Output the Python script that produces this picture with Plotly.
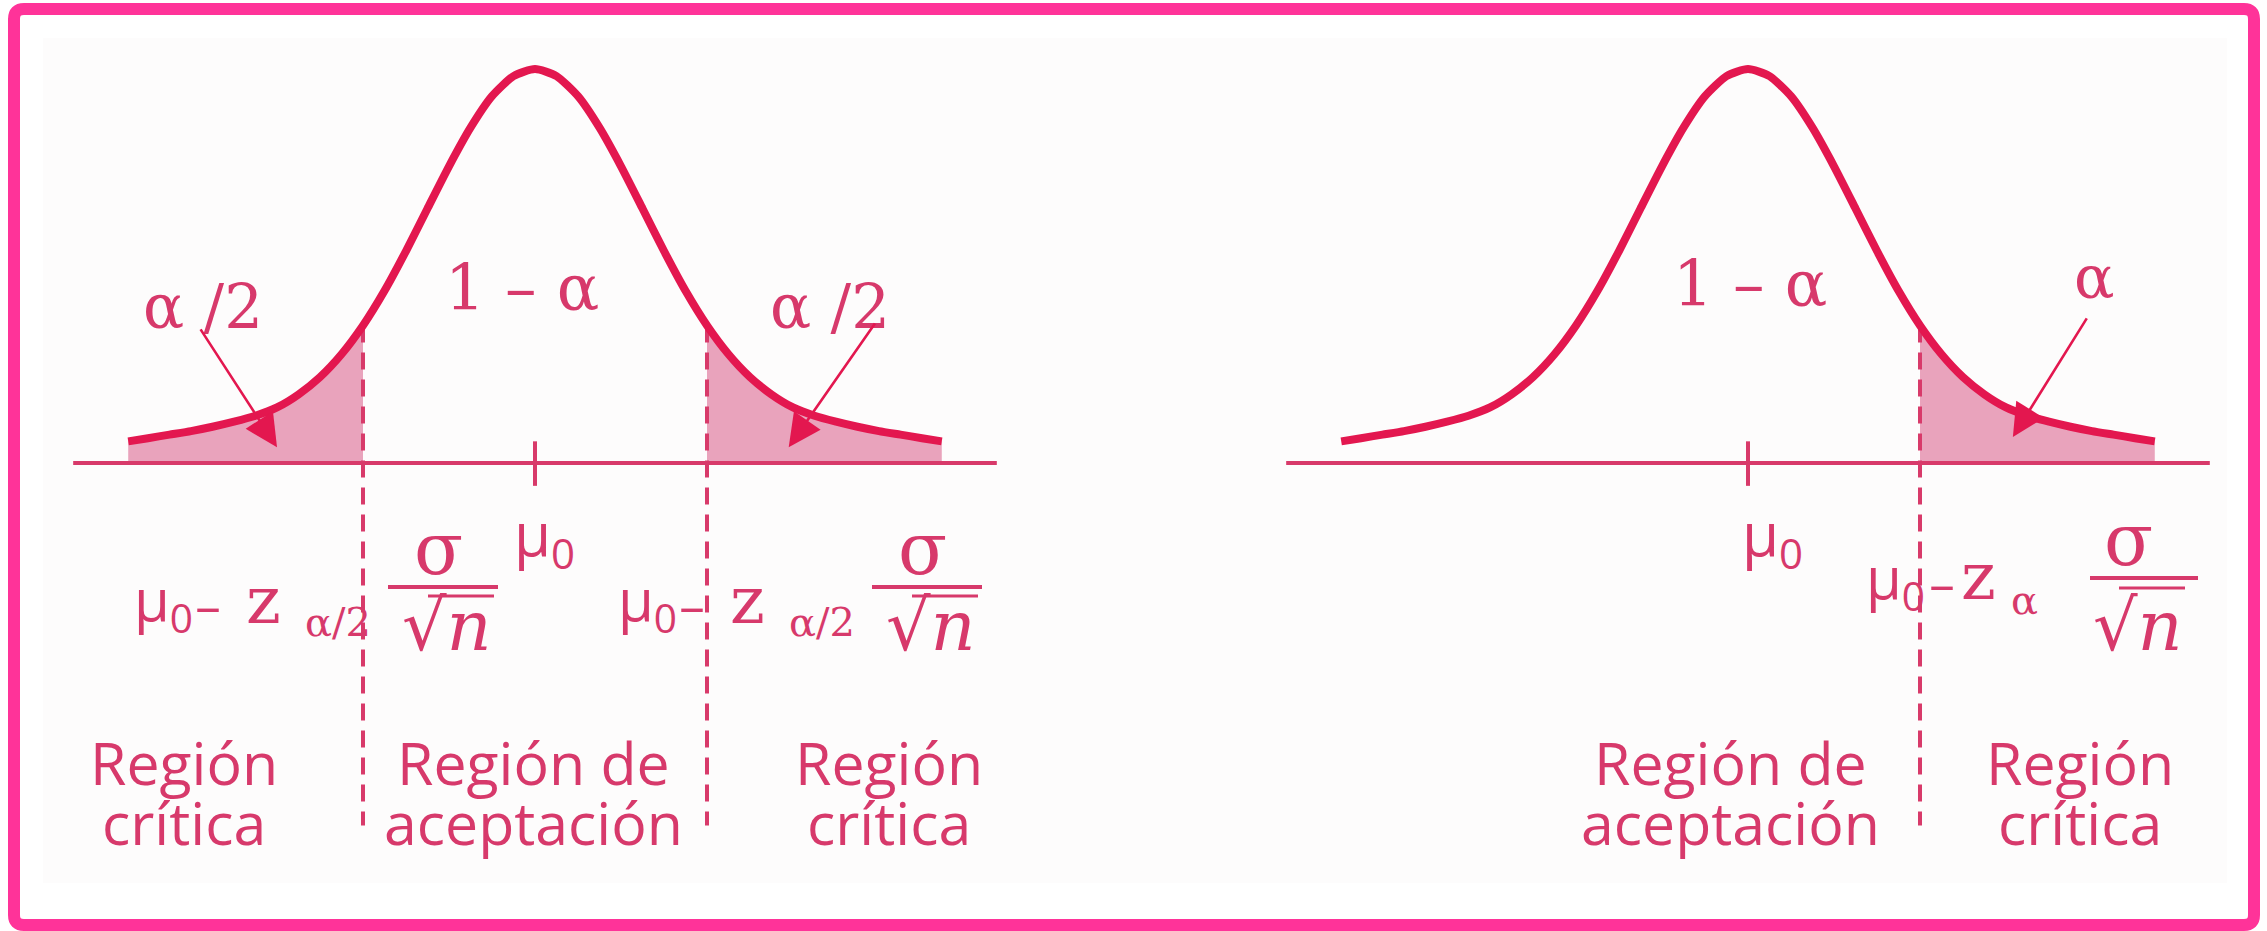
import plotly.graph_objects as go

W, H = 2267, 931

# Bell curve: abscissa in standard units, height relative to the peak
CURVE_Z = [-4.73, -4.5, -4.25, -4.0, -3.75, -3.5, -3.25, -3.0, -2.75, -2.5, -2.25, -2.0,
           -1.75, -1.5, -1.25, -1.0, -0.75, -0.5, -0.25, 0.0, 0.25, 0.5, 0.75, 1.0, 1.25,
           1.5, 1.75, 2.0, 2.25, 2.5, 2.75, 3.0, 3.25, 3.5, 3.75, 4.0, 4.25, 4.5, 4.73]
CURVE_H = [0.055, 0.063, 0.072, 0.081, 0.092, 0.105, 0.12, 0.141, 0.174, 0.218, 0.276, 0.349,
           0.437, 0.538, 0.646, 0.753, 0.851, 0.931, 0.982, 1.0, 0.982, 0.931, 0.851, 0.753,
           0.646, 0.538, 0.437, 0.349, 0.276, 0.218, 0.174, 0.141, 0.12, 0.105, 0.092, 0.081,
           0.072, 0.063, 0.055]

Z_CRIT = 2.0        # critical value (two-sided on the left chart, one-sided on the right)
H_CRIT = 0.349      # curve height at the critical value
BASE_HALF = 5.37    # half length of the horizontal axis line
DASH_LOW = -0.92    # lower end of the dashed separators

CURVE_C = "#E3174F"
AXIS_C = "#D83A6A"
TEXT_C = "#D7396B"
FILL_C = "#E9A3BC"
BORDER_C = "#FF3399"
SERIF = "DejaVu Serif"
SANS = "Open Sans"

# pixel geometry of the two panels (peak position, px per unit)
PX_UNIT_X = 86.0
PX_UNIT_Y = 394.0
BASE_Y_PX = 463.0
PEAK_L, PEAK_R = 535.0, 1748.0


def xrange_for(peak, d0, d1):
    return [(d0 * W - peak) / PX_UNIT_X, (d1 * W - peak) / PX_UNIT_X]


Y_RANGE = [-(H - BASE_Y_PX) / PX_UNIT_Y, BASE_Y_PX / PX_UNIT_Y]


def tail(z_a, z_b):
    lo, hi = min(z_a, z_b), max(z_a, z_b)
    pts = [(z, h) for z, h in zip(CURVE_Z, CURVE_H) if lo <= z <= hi]
    xs = [pts[0][0]] + [p[0] for p in pts] + [pts[-1][0]]
    ys = [0] + [p[1] for p in pts] + [0]
    return xs, ys


fig = go.Figure()


def add_panel(xa, ya, crit_list, tails):
    for za, zb in tails:
        xs, ys = tail(za, zb)
        fig.add_trace(go.Scatter(x=xs, y=ys, fill="toself", fillcolor=FILL_C, mode="none",
                                 xaxis=xa, yaxis=ya, hoverinfo="skip", showlegend=False))
    fig.add_trace(go.Scatter(x=[-BASE_HALF, BASE_HALF], y=[0, 0], mode="lines",
                             line=dict(color=AXIS_C, width=4), xaxis=xa, yaxis=ya,
                             hoverinfo="skip", showlegend=False))
    for zc in crit_list:
        fig.add_trace(go.Scatter(x=[zc, zc], y=[H_CRIT, DASH_LOW], mode="lines",
                                 line=dict(color=AXIS_C, width=4, dash="17px,10px"),
                                 xaxis=xa, yaxis=ya, hoverinfo="skip", showlegend=False))
    fig.add_trace(go.Scatter(x=[0, 0], y=[0.055, -0.058], mode="lines",
                             line=dict(color=AXIS_C, width=4), xaxis=xa, yaxis=ya,
                             hoverinfo="skip", showlegend=False))
    fig.add_trace(go.Scatter(x=CURVE_Z, y=CURVE_H, mode="lines",
                             line=dict(color=CURVE_C, width=8, shape="spline", smoothing=0.6),
                             xaxis=xa, yaxis=ya, hoverinfo="skip", showlegend=False))


add_panel("x", "y", [-Z_CRIT, Z_CRIT], [(CURVE_Z[0], -Z_CRIT), (Z_CRIT, CURVE_Z[-1])])
add_panel("x2", "y2", [Z_CRIT], [(Z_CRIT, CURVE_Z[-1])])


def px(x):
    return x / W


def py(y):
    return 1 - y / H


annotations = []


def label(text, x, y, size, family=SERIF, xanchor="center"):
    annotations.append(dict(text=text, x=px(x), y=py(y), xref="paper", yref="paper",
                            xanchor=xanchor, yanchor="middle", showarrow=False,
                            font=dict(family=family, size=size, color=TEXT_C)))


def pointer(xref, yref, tail_z, tail_h, tip_z, tip_h):
    annotations.append(dict(text="", x=tip_z, y=tip_h, ax=tail_z, ay=tail_h,
                            xref=xref, yref=yref, axref=xref, ayref=yref,
                            showarrow=True, arrowhead=2, arrowsize=2.5, arrowwidth=2.6,
                            arrowcolor=CURVE_C, standoff=0))


# left chart: two-sided test
label("1 \u2013 \u03b1", 522, 289, 63)
label("\u03b1 /2", 203, 306, 61)
label("\u03b1 /2", 830, 306, 61)
pointer("x", "y", -3.9, 0.343, -3.0, 0.04)
pointer("x", "y", 3.965, 0.358, 2.95, 0.04)
label("\u03bc<sub>0</sub>", 512, 536, 60, SANS, "left")

shapes = []


def hline(x0, x1, y, width):
    shapes.append(dict(type="line", xref="paper", yref="paper", x0=px(x0), x1=px(x1),
                       y0=py(y), y1=py(y), line=dict(color=TEXT_C, width=width)))


def bound_formula(dx, dy, sub):
    label("\u03bc<sub>0</sub>", 132 + dx, 602 + dy, 58, SANS, "left")
    label("\u2013", 208 + dx, 606 + dy, 52)
    label("z", 263 + dx, 600 + dy, 66)
    label(sub, 338 + dx, 622 + dy, 40)
    label("\u03c3", 438 + dx, 549 + dy, 72)
    hline(388 + dx, 498 + dx, 587 + dy, 4)
    label("\u221a<i>n</i>", 447 + dx, 626 + dy, 70)
    hline(428 + dx, 494 + dx, 596 + dy, 3)


bound_formula(0, 0, "\u03b1/2")
bound_formula(484, 0, "\u03b1/2")

for cx, lines in [(184, ["Regi\u00f3n", "cr\u00edtica"]),
                  (533, ["Regi\u00f3n de", "aceptaci\u00f3n"]),
                  (889, ["Regi\u00f3n", "cr\u00edtica"]),
                  (1730, ["Regi\u00f3n de", "aceptaci\u00f3n"]),
                  (2080, ["Regi\u00f3n", "cr\u00edtica"])]:
    label(lines[0], cx, 762, 59, SANS)
    label(lines[1], cx, 822, 59, SANS)

# right chart: one-sided test
label("1 \u2013 \u03b1", 1750, 284, 63)
label("\u03b1", 2094, 277, 60)
pointer("x2", "y2", 3.95, 0.371, 3.08, 0.066)
label("\u03bc<sub>0</sub>", 1740, 536, 60, SANS, "left")

# one-sided bound  mu0 - z_alpha sigma/sqrt(n)
label("\u03bc<sub>0</sub>", 1864, 580, 58, SANS, "left")
label("\u2013", 1942, 584, 52)
label("z", 1978, 576, 66)
label("\u03b1", 2024, 600, 40)
label("\u03c3", 2128, 540, 72)
hline(2090, 2198, 578, 4)
label("\u221a<i>n</i>", 2138, 626, 70)
hline(2119, 2185, 588, 3)

# pink frame with rounded corners and the soft panel behind the drawing
r = 10
x0, x1, y0, y1 = 14, 2254, 9, 925
frame = (f"M{px(x0 + r)},{py(y0)} L{px(x1 - r)},{py(y0)} Q{px(x1)},{py(y0)} {px(x1)},{py(y0 + r)} "
         f"L{px(x1)},{py(y1 - r)} Q{px(x1)},{py(y1)} {px(x1 - r)},{py(y1)} "
         f"L{px(x0 + r)},{py(y1)} Q{px(x0)},{py(y1)} {px(x0)},{py(y1 - r)} "
         f"L{px(x0)},{py(y0 + r)} Q{px(x0)},{py(y0)} {px(x0 + r)},{py(y0)} Z")
shapes.append(dict(type="rect", xref="paper", yref="paper", x0=px(43), x1=px(2227),
                   y0=py(38), y1=py(883), fillcolor="#FDFCFC", line=dict(width=0), layer="below"))
shapes.append(dict(type="path", xref="paper", yref="paper", path=frame,
                   line=dict(color=BORDER_C, width=12)))

axis_common = dict(visible=False, showgrid=False, zeroline=False, fixedrange=True)
fig.update_layout(
    width=W, height=H,
    margin=dict(l=0, r=0, t=0, b=0),
    paper_bgcolor="white", plot_bgcolor="rgba(0,0,0,0)",
    xaxis=dict(domain=[0, 0.5], range=xrange_for(PEAK_L, 0, 0.5), **axis_common),
    yaxis=dict(domain=[0, 1], range=Y_RANGE, **axis_common),
    xaxis2=dict(domain=[0.5, 1], range=xrange_for(PEAK_R, 0.5, 1), anchor="y2", **axis_common),
    yaxis2=dict(domain=[0, 1], range=Y_RANGE, anchor="x2", **axis_common),
    annotations=annotations,
    shapes=shapes,
    showlegend=False,
)

fig.write_html("out.html")
